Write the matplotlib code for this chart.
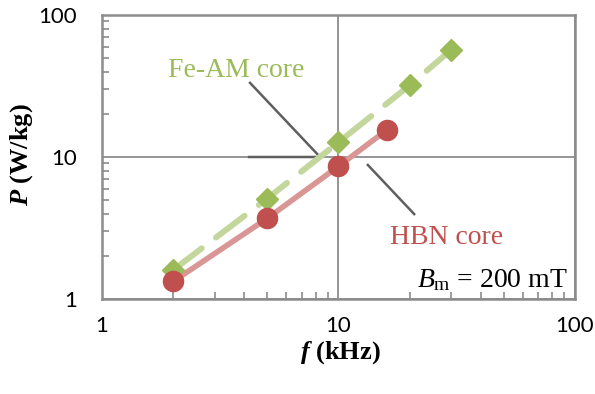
import matplotlib
matplotlib.use("Agg")
import matplotlib.pyplot as plt
from matplotlib.ticker import LogLocator, FixedLocator, NullFormatter
import numpy as np

plt.rcParams['mathtext.fontset'] = 'custom'
plt.rcParams['mathtext.rm'] = 'Liberation Serif'
plt.rcParams['mathtext.it'] = 'Liberation Serif:italic'
plt.rcParams['mathtext.bf'] = 'Liberation Serif:bold'
plt.rcParams['mathtext.bfit'] = 'Liberation Serif:bold:italic'

# data
f_feam = [2, 5, 10, 20, 30]
p_feam = [1.6, 5.1, 12.7, 32, 57]
f_hbn = [2, 5, 10, 16]
p_hbn = [1.33, 3.7, 8.6, 15.5]
ticks = [1, 10, 100]
tick_labels = ["1", "10", "100"]

green = "#9BBB59"
green_l = "#C3D69B"
red = "#C0504D"
red_l = "#D99694"
axgray = "#8C8C8C"

fig = plt.figure(figsize=(5.95, 3.94), dpi=100)
ax = fig.add_axes([102/595, 95/394, 473/595, 284/394])

ax.set_xscale("log")
ax.set_yscale("log")
ax.set_xlim(1, 100)
ax.set_ylim(1, 100)

# lines first, markers on top
ax.plot(f_feam, p_feam, color=green_l, lw=4.3, dashes=(6, 3),
        dash_capstyle="round", solid_capstyle="round", zorder=3)
ax.plot(f_hbn, p_hbn, color=red_l, lw=4, solid_capstyle="round", zorder=3)
ax.plot(f_feam, p_feam, ls="none", marker="D", ms=11, color=green, mec=green, zorder=4)
ax.plot(f_hbn, p_hbn, ls="none", marker="o", ms=14.5, color=red, mec=red, zorder=5)

ax.xaxis.set_major_locator(FixedLocator(ticks))
ax.yaxis.set_major_locator(FixedLocator(ticks))
ax.set_xticklabels(tick_labels)
ax.set_yticklabels(tick_labels)
ax.xaxis.set_minor_locator(LogLocator(base=10, subs=np.arange(2, 10)))
ax.yaxis.set_minor_locator(LogLocator(base=10, subs=np.arange(2, 10)))
ax.xaxis.set_minor_formatter(NullFormatter())
ax.yaxis.set_minor_formatter(NullFormatter())

ax.tick_params(which="both", direction="in", color=axgray, width=1.2,
               top=False, right=False)
ax.tick_params(which="major", length=0)
ax.tick_params(which="minor", length=5)
ax.tick_params(axis="x", which="major", pad=12)
ax.tick_params(axis="y", which="major", pad=18)
for lab in ax.get_xticklabels() + ax.get_yticklabels():
    lab.set_fontfamily("Lato")
    lab.set_fontsize(16)

ax.grid(True, which="major", color=axgray, lw=1.3)
for s in ax.spines.values():
    s.set_color(axgray)
    s.set_linewidth(1.8)

ax.set_xlabel(r"$\mathbfit{f}$ (kHz)", fontfamily="Liberation Serif",
              fontweight="bold", fontsize=19)
ax.set_ylabel(r"$\mathbfit{P}$ (W/kg)", fontfamily="Liberation Serif",
              fontweight="bold", fontsize=19)
ax.xaxis.set_label_coords(0.503, -0.187)
ax.yaxis.set_label_coords(-0.169, 0.507)
ax.xaxis.label.set_va("center")
ax.yaxis.label.set_va("center")

# labels and leader lines
ax.text(0.283, 0.806, "Fe-AM core", transform=ax.transAxes, ha="center", va="center",
        fontfamily="Liberation Serif", fontsize=20, color=green)
ax.text(0.729, 0.215, "HBN core", transform=ax.transAxes, ha="center", va="center",
        fontfamily="Liberation Serif", fontsize=20, color=red)
ax.text(0.985, 0.067, r"$B_{\rm m}$ = 200 mT", transform=ax.transAxes, ha="right",
        va="center", fontfamily="Liberation Serif", fontsize=20, color="black")

ax.plot([0.313, 0.461, 0.311], [0.761, 0.5, 0.5], transform=ax.transAxes,
        color="#5F5F5F", lw=1.8, zorder=2)
ax.plot([0.562, 0.660], [0.472, 0.299], transform=ax.transAxes,
        color="#5F5F5F", lw=1.8, zorder=2)

fig.savefig("out.png", dpi=100)
